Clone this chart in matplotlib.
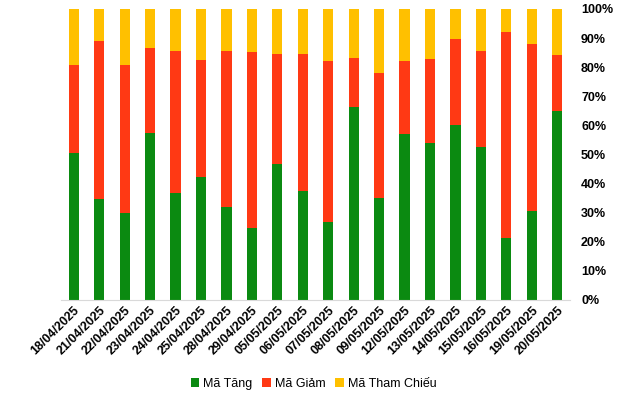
import numpy as np
import matplotlib.pyplot as plt
from matplotlib.ticker import PercentFormatter

plt.rcParams['font.family'] = ['Liberation Sans', 'DejaVu Sans']

# dates and share of stocks (%)
dates = ["18/04/2025", "21/04/2025", "22/04/2025", "23/04/2025", "24/04/2025",
         "25/04/2025", "28/04/2025", "29/04/2025", "05/05/2025", "06/05/2025",
         "07/05/2025", "08/05/2025", "09/05/2025", "12/05/2025", "13/05/2025",
         "14/05/2025", "15/05/2025", "16/05/2025", "19/05/2025", "20/05/2025"]
tang = [50.5, 34.7, 30.0, 57.4, 36.8, 42.3, 32.0, 24.7, 46.7, 37.5,
        26.9, 66.3, 35.1, 57.2, 54.0, 60.1, 52.6, 21.3, 30.6, 64.9]
giam = [30.3, 54.3, 50.8, 29.2, 48.8, 40.2, 53.6, 60.5, 37.8, 47.0,
        55.2, 16.9, 42.9, 24.9, 28.8, 29.6, 33.0, 70.8, 57.4, 19.3]
tham_chieu = [100 - a - b for a, b in zip(tang, giam)]

c_tang = "#0b8a11"
c_giam = "#ff3914"
c_tc = "#ffc000"

fig = plt.figure(figsize=(6.4, 3.94), dpi=100)
ax = fig.add_axes([0.0953, 0.2386, 0.7953, 0.7386])

x = np.arange(len(dates))
w = 0.4
ax.bar(x, tang, w, color=c_tang, label="Mã Tăng")
ax.bar(x, giam, w, bottom=tang, color=c_giam, label="Mã Giảm")
ax.bar(x, tham_chieu, w, bottom=np.array(tang) + np.array(giam), color=c_tc, label="Mã Tham Chiếu")

ax.set_xlim(-0.5, len(dates) - 0.5)
ax.set_ylim(0, 100)
ax.set_yticks(np.arange(0, 101, 10))
ax.yaxis.set_major_formatter(PercentFormatter(decimals=0))
ax.yaxis.tick_right()
ax.tick_params(axis='y', length=0, pad=8, labelsize=9)
ax.tick_params(axis='x', length=0, pad=3, labelsize=9)
for t in ax.get_yticklabels():
    t.set_fontweight('bold')
    t.set_horizontalalignment('left')

ax.set_xticks(x)
ax.set_xticklabels(dates, rotation=45, ha='right', rotation_mode='anchor', fontweight='bold')

for s in ['top', 'right', 'left']:
    ax.spines[s].set_visible(False)
ax.spines['bottom'].set_color('#d9d9d9')

fig.legend(loc='center', bbox_to_anchor=(0.49, 0.025), ncol=3, frameon=False,
           fontsize=9, handlelength=0.7, handleheight=0.7, handletextpad=0.3,
           columnspacing=0.8)

fig.savefig("out.png", dpi=100)
